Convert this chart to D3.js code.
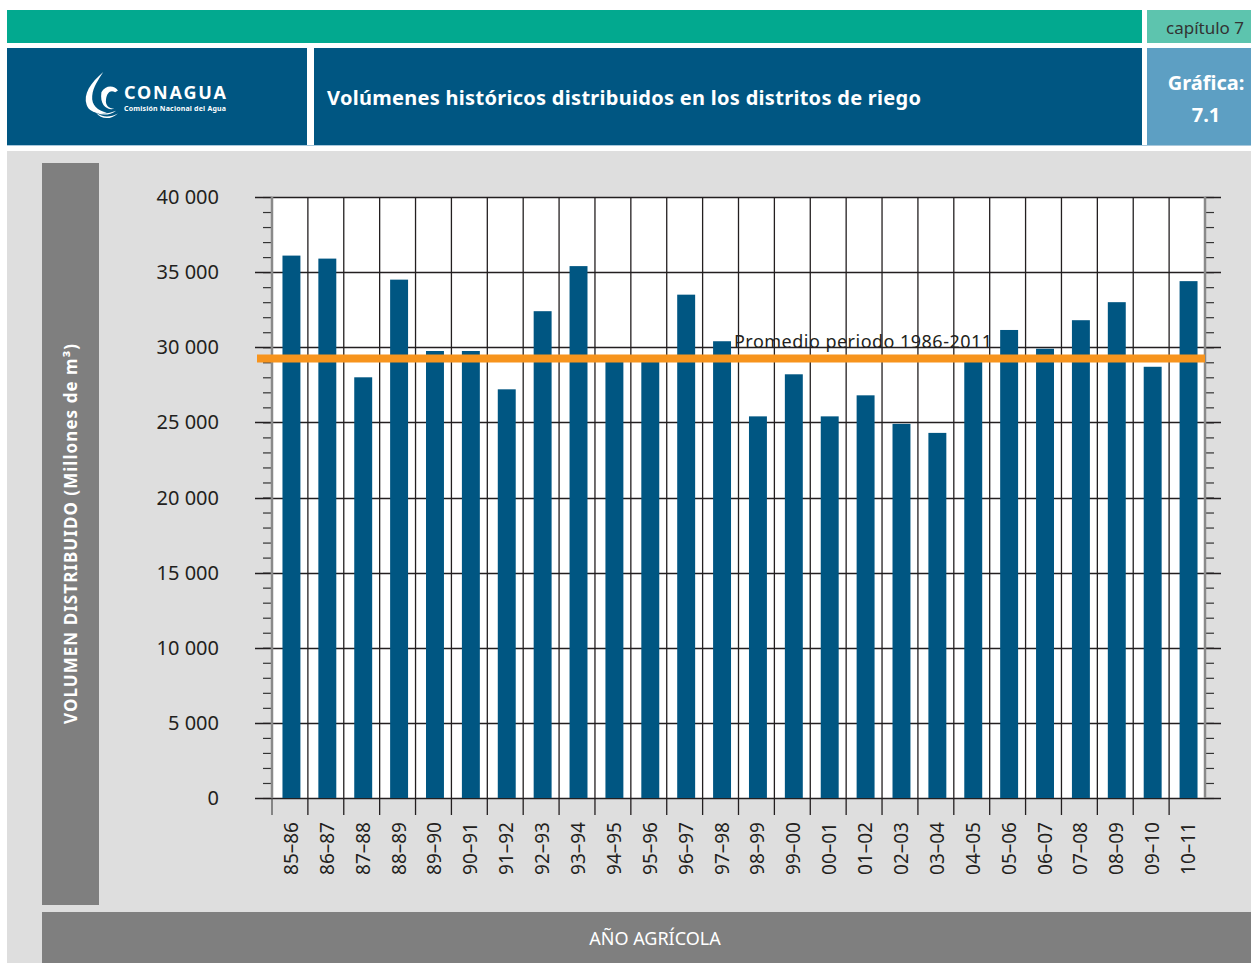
<!DOCTYPE html>
<html>
<head>
<meta charset="utf-8">
<script src="https://cdn.jsdelivr.net/npm/d3@7"></script>
<style>
  body { margin: 0; background: #fff; }
  svg text { font-family: "Noto Sans", "Open Sans", sans-serif; }
</style>
</head>
<body>
<div id="chart"></div>
<script>
// data
var years = ["85–86","86–87","87–88","88–89","89–90","90–91","91–92","92–93","93–94","94–95",
             "95–96","96–97","97–98","98–99","99–00","00–01","01–02","02–03","03–04","04–05",
             "05–06","06–07","07–08","08–09","09–10","10–11"];
var volumen = [36100, 35900, 28000, 34500, 29750, 29750, 27200, 32400, 35400, 29200,
               29200, 33500, 30400, 25400, 28200, 25400, 26800, 24900, 24300, 29100,
               31150, 29900, 31800, 33000, 28700, 34400];
var promedio = 29250;
var yTicks = [0, 5000, 10000, 15000, 20000, 25000, 30000, 35000, 40000];

var svg = d3.select("#chart").append("svg")
  .attr("width", 1251).attr("height", 963);

// ---- header boxes
svg.append("rect").attr("x",7).attr("y",10).attr("width",1135).attr("height",33).attr("fill","#02a98f");
svg.append("rect").attr("x",1147).attr("y",10).attr("width",104).attr("height",33).attr("fill","#5dc4ae");
svg.append("text").attr("x",1205).attr("y",34).attr("text-anchor","middle")
  .attr("font-size",17).attr("fill","#333").text("capítulo 7");

svg.append("rect").attr("x",7).attr("y",48).attr("width",300).attr("height",97).attr("fill","#005682");
svg.append("rect").attr("x",314).attr("y",48).attr("width",828).attr("height",97).attr("fill","#005682");
svg.append("rect").attr("x",1147).attr("y",48).attr("width",104).attr("height",97).attr("fill","#5d9fc3");
svg.append("line").attr("x1",7).attr("x2",1251).attr("y1",145.5).attr("y2",145.5)
  .attr("stroke","#a8c8dc").attr("stroke-width",1);

svg.append("text").attr("x",327).attr("y",105).attr("font-size",20).attr("font-weight","bold")
  .attr("fill","#fff").attr("textLength",594).text("Volúmenes históricos distribuidos en los distritos de riego");
svg.append("text").attr("x",1206).attr("y",90).attr("text-anchor","middle").attr("font-size",20)
  .attr("font-weight","bold").attr("fill","#fff").text("Gráfica:");
svg.append("text").attr("x",1206).attr("y",122).attr("text-anchor","middle").attr("font-size",20)
  .attr("font-weight","bold").attr("fill","#fff").text("7.1");

// logo (rough)
var logo = svg.append("g").attr("transform","translate(83,72) scale(0.92)");
logo.append("path").attr("d","M22,0 C8,12 0,24 4,36 C7,44 16,46 26,44 C16,42 9,36 10,26 C11,16 17,8 22,0 Z").attr("fill","#fff");
logo.append("path").attr("d","M20,22 C24,14 34,14 38,20 L35,22 C30,19 26,22 25,30 C24,36 28,40 34,40 C26,42 18,36 20,22 Z").attr("fill","#fff");
logo.append("path").attr("d","M8,40 C16,46 26,46 36,42 C28,48 16,48 8,40 Z").attr("fill","#fff");
logo.append("path").attr("d","M14,44 C22,50 30,49 38,45 C30,52 20,52 14,44 Z").attr("fill","#fff");
svg.append("text").attr("x",124).attr("y",99).attr("font-size",18).attr("font-weight","bold")
  .attr("fill","#fff").attr("textLength",102).text("CONAGUA");
svg.append("text").attr("x",124).attr("y",111).attr("font-size",7).attr("font-weight","bold")
  .attr("fill","#fff").attr("textLength",102).text("Comisión Nacional del Agua");

// ---- panel
svg.append("rect").attr("x",7).attr("y",151).attr("width",1244).attr("height",812).attr("fill","#dedede");
svg.append("rect").attr("x",42).attr("y",163).attr("width",57).attr("height",742).attr("fill","#7f7f7f");
svg.append("rect").attr("x",42).attr("y",912).attr("width",1209).attr("height",51).attr("fill","#7f7f7f");
svg.append("text").attr("x",655).attr("y",945).attr("text-anchor","middle").attr("font-size",18)
  .attr("fill","#fff").text("AÑO AGRÍCOLA");
svg.append("text").attr("transform","translate(77,534) rotate(-90)").attr("text-anchor","middle")
  .attr("font-size",17).attr("font-weight","bold").attr("fill","#fff")
  .attr("textLength",380).text("VOLUMEN DISTRIBUIDO (Millones de m³)");

// ---- chart
var plotLeft = 272, plotRight = 1205, plotTop = 197, plotBottom = 798;
var x = d3.scaleBand().domain(years).range([plotLeft, plotRight]).paddingInner(0.5).paddingOuter(0.25);
var y = d3.scaleLinear().domain([0, 40000]).range([plotBottom, plotTop]);

svg.append("rect").attr("x",plotLeft).attr("y",plotTop)
  .attr("width",plotRight-plotLeft).attr("height",plotBottom-plotTop).attr("fill","#fff");

// minor ticks both sides
var minor = d3.range(0, 40001, 1000);
svg.append("g").attr("transform","translate("+plotLeft+",0)")
  .call(d3.axisLeft(y).tickValues(minor).tickSize(9).tickFormat(""))
  .call(g => g.select(".domain").remove())
  .selectAll("line").attr("stroke","#333").attr("stroke-width",1.2);
svg.append("g").attr("transform","translate("+plotRight+",0)")
  .call(d3.axisRight(y).tickValues(minor).tickSize(9).tickFormat(""))
  .call(g => g.select(".domain").remove())
  .selectAll("line").attr("stroke","#333").attr("stroke-width",1.2);

// horizontal gridlines
svg.append("g").selectAll("line").data(yTicks).join("line")
  .attr("x1",plotLeft-17).attr("x2",plotRight+16)
  .attr("y1",d => Math.round(y(d))+0.5).attr("y2",d => Math.round(y(d))+0.5)
  .attr("stroke","#231f20").attr("stroke-width",1.3);

// vertical gridlines at band boundaries
var bounds = years.slice(1).map(d => x(d) - x.bandwidth()/2);
svg.append("g").selectAll("line").data(bounds).join("line")
  .attr("x1",d => d).attr("x2",d => d).attr("y1",plotTop).attr("y2",plotBottom+17)
  .attr("stroke","#231f20").attr("stroke-width",1.3);
svg.append("line").attr("x1",plotLeft).attr("x2",plotLeft).attr("y1",plotBottom).attr("y2",plotBottom+17)
  .attr("stroke","#555").attr("stroke-width",1.3);

// side axis lines
[plotLeft, plotRight].forEach(function(px){
  svg.append("line").attr("x1",px).attr("x2",px).attr("y1",plotTop).attr("y2",plotBottom)
    .attr("stroke","#8a8a8a").attr("stroke-width",2.5);
});

// bars
svg.append("g").selectAll("rect").data(years).join("rect")
  .attr("x",(d) => x(d) + 1.5).attr("width",x.bandwidth())
  .attr("y",(d,i) => y(volumen[i])).attr("height",(d,i) => plotBottom - y(volumen[i]))
  .attr("fill","#005682");

// y labels
svg.append("g").selectAll("text").data(yTicks).join("text")
  .attr("x",219).attr("y",d => y(d)+7).attr("text-anchor","end")
  .attr("font-size",20).attr("fill","#231f20")
  .text(d => d === 0 ? "0" : d3.format(",")(d).replace(",", " "));

// x labels
svg.append("g").selectAll("text").data(years).join("text")
  .attr("transform",d => "translate("+(x(d)+x.bandwidth()/2+8)+",822) rotate(-90)")
  .attr("text-anchor","end").attr("font-size",19).attr("fill","#231f20")
  .text(d => d);

// average line
svg.append("line").attr("x1",257).attr("x2",plotRight)
  .attr("y1",y(promedio)).attr("y2",y(promedio))
  .attr("stroke","#f7941d").attr("stroke-width",8);
svg.append("text").attr("x",734).attr("y",348).attr("font-size",18).attr("fill","#231f20")
  .attr("textLength",258).text("Promedio periodo 1986-2011");
</script>
</body>
</html>
